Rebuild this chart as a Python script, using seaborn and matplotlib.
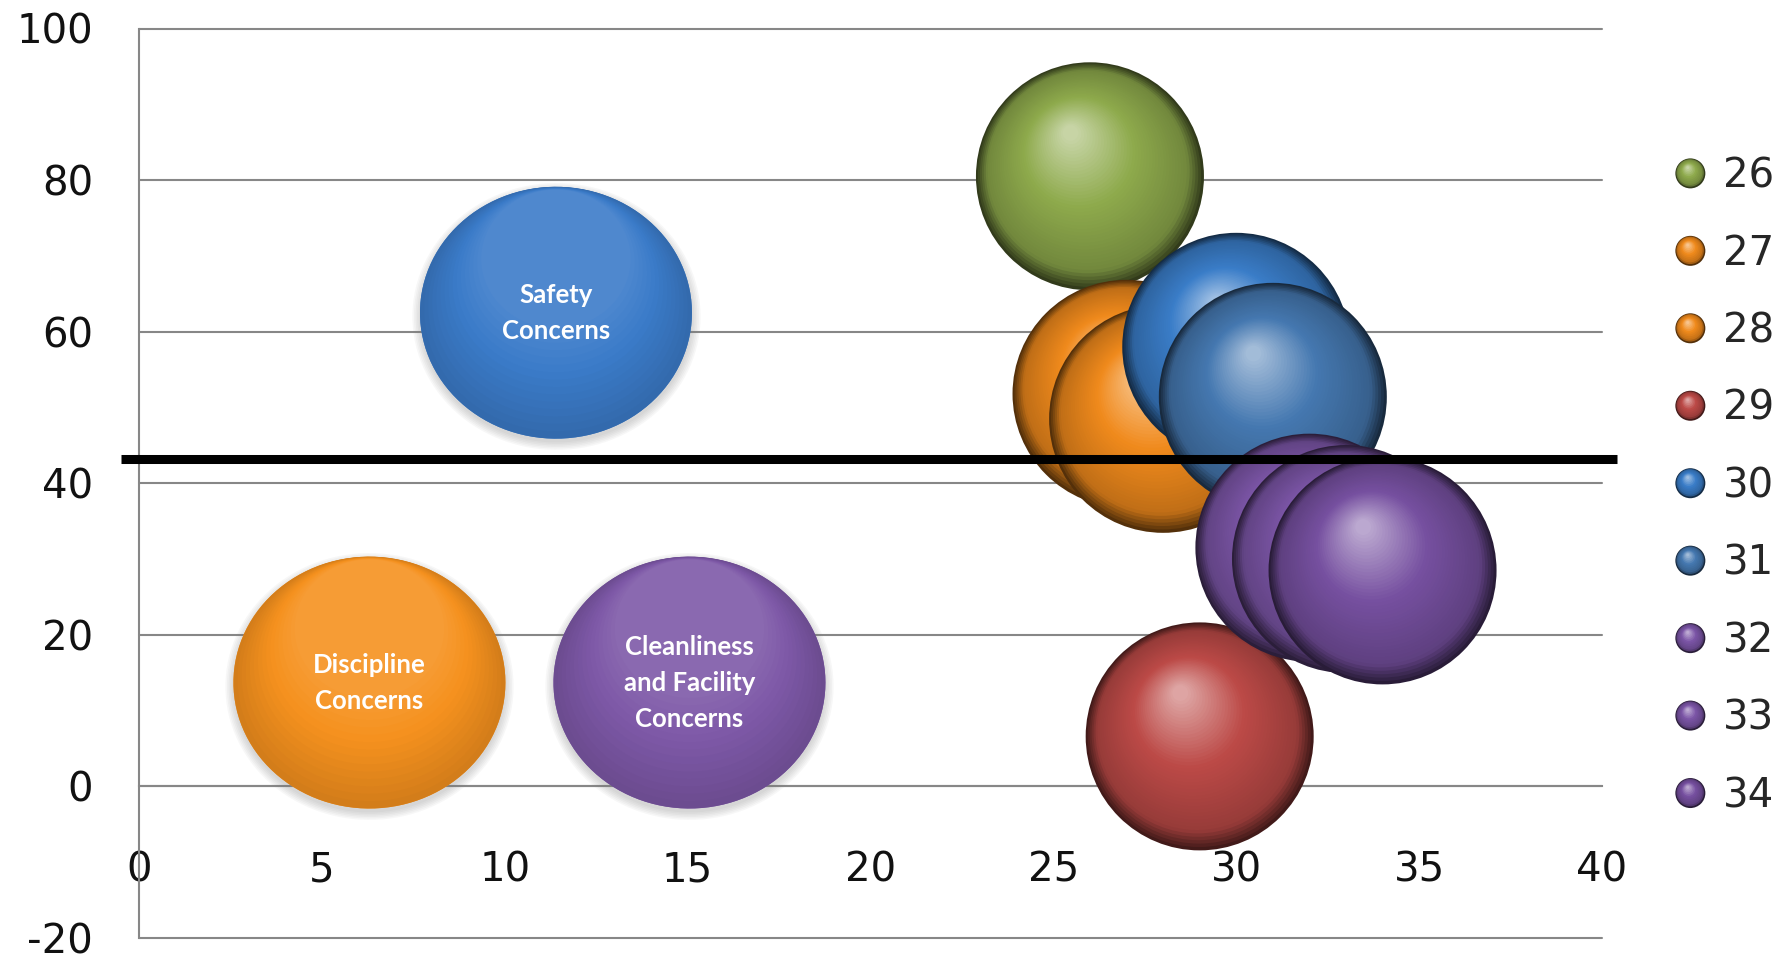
import numpy as np
import pandas as pd
import matplotlib.pyplot as plt
import seaborn as sns
from matplotlib.path import Path
from matplotlib.patches import Circle
from matplotlib.lines import Line2D
from matplotlib.legend_handler import HandlerBase
from matplotlib.colors import to_rgb

# bolhas 3D (uma serie por bolha)
series = ['26', '27', '28', '29', '30', '31', '32', '33', '34']
bubble_x = [26, 27, 28, 29, 30, 31, 32, 33, 34]
bubble_y = [80.5, 51.8, 48.5, 6.6, 58.0, 51.4, 31.5, 30.0, 28.5]
bubble_colors = ['#8EAA4C', '#F08A1C', '#F08A1C', '#BC4A47', '#3A7DC8',
                 '#4578B0', '#7B55A6', '#7B55A6', '#7650A0']

# bolhas planas com texto
topics = ['Safety\nConcerns', 'Discipline\nConcerns', 'Cleanliness\nand Facility\nConcerns']
topic_x = [11.4, 6.3, 15.05]
topic_y = [62.5, 13.7, 13.7]
topic_colors = ['#3B7BC9', '#F5911E', '#7D58A7']

threshold = 43.2

x_ticks = [0, 5, 10, 15, 20, 25, 30, 35, 40]
y_ticks = [-20, 0, 20, 40, 60, 80, 100]

grid_c = '#878787'

sns.set_style('white')
plt.rcParams['font.family'] = ['DejaVu Sans']

fig = plt.figure(figsize=(17.91, 9.59), dpi=100)
ax = fig.add_axes([139 / 1791, 21 / 959, 1463 / 1791, 909.5 / 959])
ax.set_xlim(0, 40)
ax.set_ylim(-20, 100)

# unidades de dados por pixel
pos = ax.get_position()
px_x = 40 / (pos.width * fig.get_figwidth() * fig.dpi)
px_y = 120 / (pos.height * fig.get_figheight() * fig.dpi)


def shade(c, t):
    base = np.array(to_rgb(c))
    dark = base * 0.35
    light = base + (1 - base) * 0.5
    stops = [0, 0.12, 0.55, 1.0]
    cols = [dark, base * 0.8, base, light]
    return [float(np.interp(t, stops, [cc[i] for cc in cols])) for i in range(3)]


def mix(c, amt):
    base = np.array(to_rgb(c))
    if amt >= 0:
        return base + (1 - base) * amt
    return base * (1 + amt)


# 1. bolhas planas (elipse com degrade vertical)
theta = np.linspace(0, 2 * np.pi, 120)
ell = Path(np.column_stack([np.cos(theta), 0.926 * np.sin(theta)]), closed=True)
flat_px = 272
flat_s = (flat_px * 72 / fig.dpi) ** 2
flat_rh = flat_px * 0.926 / 2

df_topics = pd.DataFrame({'x': topic_x, 'y': topic_y, 'topic': topics})
for k in range(6):
    sns.scatterplot(x=df_topics['x'], y=df_topics['y'] - 3 * px_y,
                    s=flat_s * (1 + 0.012 * k) ** 2, color='gray', alpha=0.06,
                    marker=ell, linewidth=0, legend=False, ax=ax, zorder=4)
sns.scatterplot(data=df_topics, x='x', y='y', hue='topic',
                palette=dict(zip(topics, topic_colors)), s=flat_s, marker=ell,
                linewidth=0, legend=False, ax=ax, zorder=5)
g = np.linspace(0, 1, 16)
gf = 1 - 0.45 * g
for tx, ty, col in zip(topic_x, topic_y, topic_colors):
    gy = ty + (1 - gf) * flat_rh * px_y * 0.95
    gcols = [mix(col, -0.14 + 0.24 * gg) for gg in g]
    ax.scatter(np.full(len(g), tx), gy, s=flat_s * gf ** 2, c=gcols, marker=ell,
               linewidths=0, zorder=5.5)
for tx, ty, lab in zip(topic_x, topic_y, topics):
    ax.text(tx, ty, lab, ha='center', va='center', color='white', fontsize=18.5,
            fontweight='bold', family='Lato', linespacing=1.6, zorder=6)

# 2. bolhas 3D com sombreamento
diam_px = 228
sphere_s = (diam_px * 72 / fig.dpi) ** 2
n = 45
t = np.linspace(0, 1, n)
frac = 1 - 0.93 * t
r = diam_px / 2
for i, (xv, yv, col) in enumerate(zip(bubble_x, bubble_y, bubble_colors)):
    lx = xv + t * (-0.17 * r) * px_x
    ly = yv + t * (0.38 * r) * px_y
    cols = [shade(col, tt) for tt in t]
    ax.scatter(lx, ly, s=sphere_s * frac ** 2, c=cols, linewidths=0,
               zorder=10 + i, clip_on=False)

# 3. linha de corte
ax.axhline(threshold, xmin=-0.012, xmax=1.01, color='black', lw=6.5,
           clip_on=False, zorder=50, solid_capstyle='butt')

# eixos
for s in ['top', 'right']:
    ax.spines[s].set_visible(False)
ax.spines['bottom'].set_position(('data', 0))
for s in ['left', 'bottom']:
    ax.spines[s].set_color(grid_c)
    ax.spines[s].set_linewidth(1.5)
ax.set_xticks(x_ticks)
ax.set_xticklabels([str(v) for v in x_ticks])
ax.set_yticks(y_ticks)
ax.set_yticklabels([str(v) for v in y_ticks])
ax.yaxis.grid(True, color=grid_c, lw=1.5)
ax.xaxis.grid(False)
for gl in ax.get_ygridlines():
    gl.set_clip_on(False)
ax.tick_params(axis='y', direction='out', length=12, width=1.5, color=grid_c,
               pad=21, labelsize=29, labelcolor='#111111')
ax.tick_params(axis='x', direction='out', length=9, width=1.5, color=grid_c,
               pad=37, labelsize=29, labelcolor='#111111')
ax.set_axisbelow(True)
ax.set_xlabel('')
ax.set_ylabel('')


# legenda com bolinhas sombreadas
class BallHandler(HandlerBase):
    def create_artists(self, legend, orig_handle, xdescent, ydescent,
                       width, height, fontsize, trans):
        cx = width / 2 - xdescent
        cy = height / 2 - ydescent
        col = orig_handle.get_color()
        rr = 10.8
        arts = []
        for tt in np.linspace(0, 1, 12):
            f = 1 - 0.9 * tt
            c = Circle((cx - 0.17 * rr * tt, cy + 0.38 * rr * tt), rr * f,
                       facecolor=shade(col, tt), edgecolor='none', transform=trans)
            arts.append(c)
        return arts


handles = [Line2D([], [], color=c) for c in bubble_colors]
fig.legend(handles, series, loc='center left', bbox_to_anchor=(1638 / 1791, 0.493),
           frameon=False, fontsize=29, handlelength=0.8, handleheight=0.8,
           handletextpad=0.4, labelspacing=0.93, borderpad=0.4,
           handler_map={Line2D: BallHandler()})

fig.savefig('out.png', dpi=100)
